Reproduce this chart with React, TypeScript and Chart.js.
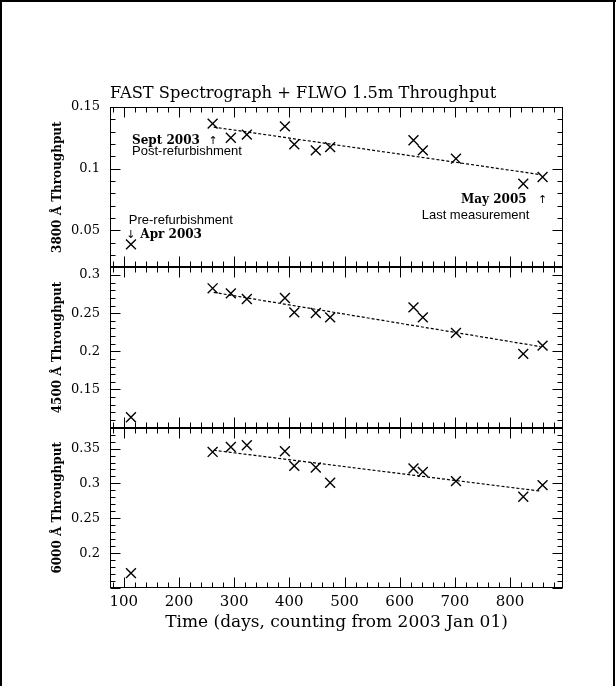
import React, { useEffect, useRef } from 'react';
import { Chart, registerables } from 'chart.js';

Chart.register(...registerables);

// ---- data ----
const days = [113, 261, 294, 323, 392, 409, 448, 474, 625, 642, 702, 824, 859];
const thr3800 = [0.0386, 0.1365, 0.1251, 0.1276, 0.1343, 0.1197, 0.1148, 0.1175, 0.123, 0.1148, 0.1081, 0.0878, 0.0932];
const thr4500 = [0.1136, 0.2825, 0.2759, 0.2686, 0.2699, 0.251, 0.2502, 0.2445, 0.2576, 0.2445, 0.2241, 0.1966, 0.2075];
const thr6000 = [0.1714, 0.3452, 0.3523, 0.3547, 0.3461, 0.3252, 0.3229, 0.3009, 0.3214, 0.3166, 0.3033, 0.2809, 0.2976];

const fitDays = [263, 855];
const fit3800 = [0.1337, 0.0952];
const fit4500 = [0.2772, 0.2062];
const fit6000 = [0.3476, 0.289];

const xTickLabels = [100, 200, 300, 400, 500, 600, 700, 800];
const yTopTicks = [0.05, 0.1, 0.15];
const yMidTicks = [0.15, 0.2, 0.25, 0.3];
const yBotTicks = [0.2, 0.25, 0.3, 0.35];

const xRange = [75, 896];
const yTopRange = [0.02, 0.15];
const yMidRange = [0.1, 0.31];
const yBotRange = [0.15, 0.38];

const titleText = 'FAST Spectrograph + FLWO 1.5m Throughput';
const xTitle = 'Time (days, counting from 2003 Jan 01)';
const yTitles = ['3800 Å Throughput', '4500 Å Throughput', '6000 Å Throughput'];

const panelIds = ['yTop', 'yMid', 'yBot'];
const panelRanges = [yTopRange, yMidRange, yBotRange];

// annotations in the top panel: [text, day, value, align, font]
const BOLD = 'bold 12px "DejaVu Serif"';
const SANS = '13px "Liberation Sans"';
const ARROW = '11px "DejaVu Sans"';
const notes: [string, number, number, CanvasTextAlign, string][] = [
  ['Sept 2003', 115, 0.1203, 'left', BOLD],
  ['↑', 262, 0.1203, 'center', ARROW],
  ['Post-refurbishment', 115, 0.1108, 'left', SANS],
  ['May 2005', 830, 0.0724, 'right', BOLD],
  ['↑', 859, 0.0724, 'center', ARROW],
  ['Last measurement', 835, 0.0594, 'right', SANS],
  ['Pre-refurbishment', 109, 0.0554, 'left', SANS],
  ['↓', 113, 0.0437, 'center', ARROW],
  ['Apr 2003', 130, 0.0437, 'left', BOLD],
];

const framePlugin = {
  id: 'frame',
  afterDraw(chart: any) {
    const { ctx } = chart;
    const xs = chart.scales.x;
    const L = Math.round(xs.left) + 0.5;
    const R = Math.round(xs.right) - 0.5;
    ctx.save();
    ctx.strokeStyle = '#000';
    ctx.fillStyle = '#000';
    ctx.lineWidth = 1;
    const seg = (x1: number, y1: number, x2: number, y2: number) => {
      ctx.beginPath();
      ctx.moveTo(x1, y1);
      ctx.lineTo(x2, y2);
      ctx.stroke();
    };
    panelIds.forEach((id, k) => {
      const s = chart.scales[id];
      const T = Math.round(s.top) + 0.5;
      const B = Math.round(s.bottom) - 0.5;
      ctx.strokeRect(L, T, R - L, B - T);
      for (let d = 80; d <= 880; d += 20) {
        const px = Math.round(xs.getPixelForValue(d)) + 0.5;
        const len = d % 100 === 0 ? 10 : 5;
        seg(px, T, px, T + len);
        seg(px, B, px, B - len);
      }
      const [lo, hi] = panelRanges[k];
      for (let c = Math.ceil(lo * 100 - 1e-6); c <= Math.floor(hi * 100 + 1e-6); c++) {
        const py = Math.round(s.getPixelForValue(c / 100)) + 0.5;
        const len = c % 5 === 0 ? 10 : 5;
        seg(L, py, L + len, py);
        seg(R, py, R - len, py);
      }
    });

    // title
    ctx.font = '16.3px "DejaVu Serif"';
    ctx.textAlign = 'left';
    ctx.textBaseline = 'alphabetic';
    ctx.fillText(titleText, xs.left, 98);

    // annotations
    const yt = chart.scales.yTop;
    for (const [t, d, v, al, f] of notes) {
      ctx.font = f;
      ctx.textAlign = al;
      ctx.fillText(t, xs.getPixelForValue(d), yt.getPixelForValue(v));
    }

    // outer border (left, top, right)
    ctx.lineWidth = 2;
    seg(1, 0, 1, chart.height);
    seg(0, 1, chart.width, 1);
    seg(614, 0, 614, chart.height);
    ctx.restore();
  },
};

const yScale = (range: number[], ticks: number[], title: string) => ({
  type: 'linear',
  position: 'left',
  stack: 'panels',
  stackWeight: 1,
  min: range[0],
  max: range[1],
  grid: { display: false, drawTicks: false },
  border: { display: false },
  afterBuildTicks: (s: any) => {
    s.ticks = ticks.map((v) => ({ value: v }));
  },
  afterFit: (s: any) => {
    s.width = 110;
  },
  ticks: {
    color: '#000',
    padding: 10,
    autoSkip: false,
    font: { family: 'DejaVu Serif', size: 13 },
    callback: (v: any) => String(v),
  },
  title: {
    display: true,
    text: title,
    color: '#000',
    font: { family: 'DejaVu Serif', size: 12, weight: 'bold' },
    padding: { top: 51, bottom: 0 },
  },
});

export default function App() {
  const ref = useRef<HTMLCanvasElement>(null);
  useEffect(() => {
    if (!ref.current) return;
    const pts = (ys: number[]) => days.map((d, i) => ({ x: d, y: ys[i] }));
    const fit = (ys: number[]) => fitDays.map((d, i) => ({ x: d, y: ys[i] }));
    const marks = (axis: string, ys: number[]) => ({
      type: 'scatter',
      data: pts(ys),
      yAxisID: axis,
      pointStyle: 'crossRot',
      pointRadius: 7,
      borderColor: '#000',
      backgroundColor: '#000',
      borderWidth: 1.4,
      showLine: false,
    });
    const line = (axis: string, ys: number[]) => ({
      type: 'line',
      data: fit(ys),
      yAxisID: axis,
      borderColor: '#000',
      borderWidth: 1.2,
      borderDash: [3, 2],
      pointRadius: 0,
      fill: false,
    });
    const chart = new Chart(ref.current, {
      type: 'scatter',
      data: {
        datasets: [
          line('yTop', fit3800),
          marks('yTop', thr3800),
          line('yMid', fit4500),
          marks('yMid', thr4500),
          line('yBot', fit6000),
          marks('yBot', thr6000),
        ] as any,
      },
      options: {
        responsive: false,
        animation: false,
        events: [],
        layout: { padding: { left: 0, top: 107, right: 53, bottom: 0 } },
        plugins: { legend: { display: false }, tooltip: { enabled: false } },
        scales: {
          x: {
            type: 'linear',
            position: 'bottom',
            min: xRange[0],
            max: xRange[1],
            grid: { display: false, drawTicks: false },
            border: { display: false },
            afterBuildTicks: (s: any) => {
              s.ticks = xTickLabels.map((v) => ({ value: v }));
            },
            afterFit: (s: any) => {
              s.height = 98;
            },
            ticks: {
              color: '#000',
              padding: 5,
              maxRotation: 0,
              autoSkip: false,
              font: { family: 'DejaVu Serif', size: 15 },
              callback: (v: any) => String(v),
            },
            title: {
              display: true,
              text: xTitle,
              color: '#000',
              font: { family: 'DejaVu Serif', size: 17 },
              padding: { top: 0, bottom: 53 },
            },
          },
          yBot: yScale(yBotRange, yBotTicks, yTitles[2]),
          yMid: yScale(yMidRange, yMidTicks, yTitles[1]),
          yTop: yScale(yTopRange, yTopTicks, yTitles[0]),
        } as any,
      },
      plugins: [framePlugin],
    });
    return () => chart.destroy();
  }, []);
  return (
    <div style={{ position: 'absolute', left: 0, top: 0, width: 616, height: 686 }}>
      <canvas ref={ref} width={616} height={686} style={{ display: 'block', width: 616, height: 686 }} />
    </div>
  );
}
